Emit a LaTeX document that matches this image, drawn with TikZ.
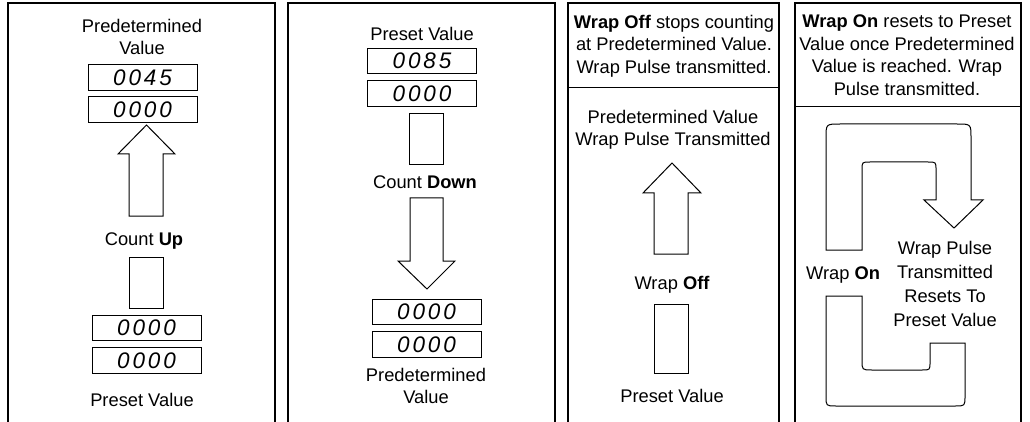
\documentclass[tikz,border=0pt]{standalone}
\usepackage{fontspec}
\setmainfont{Liberation Sans}
\newfontfamily\segfont[LetterSpace=13]{Liberation Sans}

\begin{document}
\begin{tikzpicture}[x=1pt,y=-1pt,
    panel/.style={line width=2.4pt},
    rule/.style={line width=1pt},
    blk/.style={line width=1pt},
    lbl/.style={align=center,inner sep=0pt,font=\fontsize{18.3}{22.5}\selectfont},
    disp/.style={draw,line width=1pt,minimum width=109pt,minimum height=25.5pt,inner sep=0pt,
      font=\fontsize{22.5}{22}\segfont\itshape},
    slot/.style={draw,line width=1pt,minimum width=34pt,inner sep=0pt}]
    \useasboundingbox (0,0) rectangle (1030,422);
    % frames
    \draw[panel] (8,430) -- (8,3) -- (275,3) -- (275,430);
    \draw[panel] (288,430) -- (288,3) -- (555,3) -- (555,430);
    \draw[panel] (568,430) -- (568,3) -- (779,3) -- (779,430);
    \draw[panel] (795,430) -- (795,3) -- (1021,3) -- (1021,430);
    % count up
    \node[lbl] (uptitle) at (142,37) {Predetermined\\Value};
    \node[disp] (updisp1) at (142.5,77.5) {0045};
    \node[disp] (updisp2) at (142.5,109.5) {0000};
    \draw[blk] (129,216) -- (129,154) -- (118,154) -- (146.5,125) -- (175,154) -- (163,154) -- (163,216) -- cycle;
    \node[lbl] (upcount) at (144,241) {Count \textbf{Up}};
    \node[slot,minimum height=51pt] (upslot) at (146,282.5) {};
    \node[disp] (updisp3) at (146.5,328) {0000};
    \node[disp] (updisp4) at (146.5,360.5) {0000};
    \node[lbl] (uppreset) at (142,400) {Preset Value};
    % count down
    \node[lbl] (dntitle) at (422,34) {Preset Value};
    \node[disp] (dndisp1) at (422,61) {0085};
    \node[disp] (dndisp2) at (422,93.5) {0000};
    \node[slot,minimum height=51pt] (dnslot) at (426.5,139.5) {};
    \node[lbl] (dncount) at (425,182) {Count \textbf{Down}};
    \draw[blk] (410,198) -- (443,198) -- (443,261) -- (455,261) -- (427,289) -- (398,261) -- (410,261) -- cycle;
    \node[disp] (dndisp3) at (426.5,312) {0000};
    \node[disp] (dndisp4) at (426.5,344.5) {0000};
    \node[lbl] (dnpredet) at (426,386) {Predetermined\\Value};
    % wrap off
    \node[lbl] (offhead) at (674,46) {\textbf{Wrap Off} stops counting\\at Predetermined Value.\\Wrap Pulse transmitted.};
    \draw[rule] (568,88) -- (779,88);
    \node[lbl] (offnote) at (673,130) {Predetermined Value\\Wrap Pulse Transmitted};
    \draw[blk] (654,254) -- (654,193) -- (643,193) -- (672,163) -- (701,193) -- (688,193) -- (688,254) -- cycle;
    \node[lbl] (offwrap) at (672,285) {Wrap \textbf{Off}};
    \node[slot,minimum height=69pt] (offslot) at (671,338.5) {};
    \node[lbl] (offpreset) at (672,396) {Preset Value};
    % wrap on
    \node[lbl] (onhead) at (907,55) {\textbf{Wrap On} resets to Preset\\Value once Predetermined\\Value is reached. Wrap\\Pulse transmitted.};
    \draw[rule] (795,107) -- (1021,107);
    \draw[blk] (826,250) -- (826,138) .. controls (826,124) .. (840,124) -- (957,124)
      .. controls (971,124) .. (971,138) -- (971,200) -- (983,200) -- (954,228) -- (924,200)
      -- (936,200) -- (936,170) .. controls (936,162) .. (928,162) -- (870,162)
      .. controls (862,162) .. (862,170) -- (862,250) -- cycle;
    \node[lbl] (onwrap) at (843,275) {Wrap \textbf{On}};
    \node[lbl,font=\fontsize{18.3}{23.7}\selectfont] (onnote) at (945,284) {Wrap Pulse\\Transmitted\\Resets To\\Preset Value};
    \draw[blk] (826,296) -- (862,296) -- (862,360) .. controls (862,370) .. (872,370) -- (922,370)
      .. controls (930,370) .. (930,362) -- (930,343) -- (965,343) -- (965,396)
      .. controls (965,406) .. (955,406) -- (836,406) .. controls (826,406) .. (826,396) -- cycle;
  \end{tikzpicture}
\end{document}
